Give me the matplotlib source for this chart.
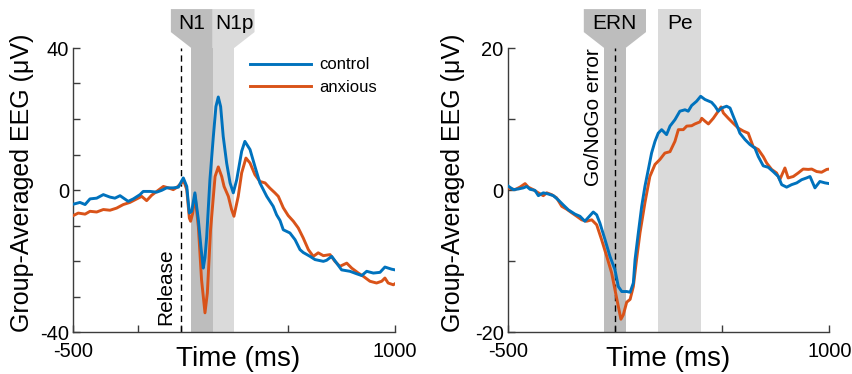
import matplotlib
matplotlib.use("Agg")
import matplotlib.pyplot as plt
from matplotlib.patches import Polygon, Rectangle
from matplotlib.transforms import blended_transform_factory

plt.rcParams['font.family'] = ['Liberation Sans', 'DejaVu Sans']

# ---------------- data ----------------
# Left panel: response-locked to release
left_ctrl_t = [-500, -469, -445, -422, -391, -360, -329, -306, -282, -244, -220, -189, -174, -142,
               -111, -88, -65, -34, -10, 13, 29, 41, 52, 67, 83, 95, 106, 114, 122, 137, 153, 165,
               176, 187, 199, 215, 231, 246, 262, 285, 300, 324, 347, 370, 402, 417, 432, 448, 464,
               479, 510, 534, 557, 572, 604, 627, 666, 681, 705, 728, 751, 790, 821, 845, 868, 899,
               930, 953, 984, 1000]
left_ctrl_v = [-4.0, -3.5, -4.1, -2.5, -2.3, -1.3, -2.0, -2.3, -1.6, -3.2, -2.5, -1.3, -0.4, -0.4,
               -0.6, -0.1, 0.6, 0.6, 0.8, 3.4, 1.0, -6.5, -6.0, -0.8, -8.4, -16.0, -22.0, -19.0, -13.1,
               2.9, 15.1, 23.5, 26.2, 23.5, 15.1, 7.6, 2.0, -0.8, 2.9, 10.9, 13.7, 11.4, 6.6, 2.0, -1.8,
               -3.2, -4.6, -7.0, -8.6, -11.2, -12.1, -14.0, -16.8, -17.6, -18.7, -19.6, -20.1, -19.8,
               -18.7, -20.6, -22.5, -22.9, -23.6, -24.1, -22.9, -23.4, -23.2, -21.7, -22.3, -22.5]

left_anx_t = [-500, -477, -445, -422, -391, -360, -329, -298, -267, -236, -204, -181, -158, -135,
              -111, -80, -57, -34, -18, 5, 13, 29, 41, 47, 57, 67, 83, 98, 114, 125, 140, 161, 176,
              192, 203, 223, 238, 249, 269, 285, 305, 324, 347, 370, 394, 417, 440, 456, 479, 502,
              526, 549, 572, 596, 619, 642, 666, 697, 720, 743, 775, 798, 829, 852, 883, 914, 938,
              953, 968, 992, 1000]
left_anx_v = [-7.2, -6.5, -6.8, -6.0, -6.2, -5.5, -5.7, -5.1, -4.1, -3.5, -2.5, -1.8, -3.0, -1.5,
              -0.4, 1.0, 0.6, 0.1, 0.7, 2.0, 2.9, 0.1, -7.9, -8.8, -6.5, -1.3, -10.3, -25.3, -34.6,
              -29.0, -11.2, 3.8, 6.5, 3.8, 1.0, -1.8, -5.5, -7.4, -1.8, 4.8, 9.0, 7.6, 4.3, 2.4, 2.0,
              0.5, -0.8, -1.8, -5.0, -7.2, -8.8, -10.7, -13.5, -16.8, -18.7, -17.7, -18.5, -18.2,
              -20.1, -21.5, -20.6, -22.0, -23.4, -24.3, -25.7, -26.2, -25.7, -24.8, -26.2, -26.7, -26.4]

# Right panel: locked to Go/NoGo error
right_ctrl_t = [-500, -474, -451, -427, -411, -396, -373, -357, -334, -311, -287, -264, -241, -217,
                -186, -163, -140, -116, -101, -85, -70, -46, -23, 0, 16, 32, 55, 71, 86, 94, 109, 125,
                140, 156, 171, 187, 202, 218, 241, 257, 280, 303, 327, 342, 358, 381, 400, 420, 451,
                467, 482, 498, 521, 537, 552, 568, 583, 607, 630, 653, 669, 692, 715, 738, 762, 778,
                801, 824, 848, 871, 894, 910, 933, 956, 980, 1000]
right_ctrl_v = [0.6, 0.05, 0.14, 0.3, 0.5, 0.1, -0.05, -0.8, -0.4, -0.56, -0.8, -1.4, -2.1, -2.8,
                -3.4, -3.7, -4.4, -3.6, -3.1, -3.5, -4.65, -7.0, -9.35, -11.2, -13.6, -14.3, -14.3,
                -14.4, -13.1, -9.8, -6.1, -2.3, 0.5, 2.9, 5.2, 6.85, 8.0, 8.5, 7.8, 9.0, 9.9, 11.1,
                11.3, 11.1, 11.9, 12.5, 13.2, 12.75, 12.35, 11.8, 11.1, 11.55, 11.8, 11.55, 10.4, 9.2,
                8.0, 7.1, 6.4, 5.9, 4.7, 3.4, 3.2, 2.6, 1.9, 0.75, 0.4, 0.75, 1.0, 1.45, 1.7, 1.9, 0.3,
                1.2, 1.0, 0.9]

right_anx_t = [-500, -466, -443, -419, -404, -381, -357, -334, -318, -295, -272, -248, -225, -202,
               -178, -155, -132, -108, -85, -62, -38, -15, 0, 16, 28, 39, 55, 71, 86, 101, 117, 140,
               163, 187, 210, 233, 257, 280, 296, 319, 335, 358, 373, 397, 405, 420, 436, 459, 482,
               495, 506, 529, 552, 576, 599, 622, 645, 669, 692, 708, 731, 754, 769, 793, 808, 832,
               855, 878, 902, 918, 941, 964, 988, 1000]
right_anx_v = [0.3, 0.05, 0.4, 0.9, 0.4, 0.05, -0.4, -0.8, -0.4, -0.65, -1.1, -2.3, -2.7, -3.2,
               -3.7, -4.2, -4.4, -4.2, -4.9, -7.0, -9.35, -11.7, -14.0, -16.4, -18.2, -17.6, -15.8,
               -15.4, -13.6, -9.8, -6.05, -1.8, 1.9, 3.6, 4.3, 5.2, 5.4, 6.85, 8.5, 8.5, 9.0, 9.05,
               9.3, 9.6, 10.1, 9.7, 9.3, 10.1, 11.1, 11.7, 10.85, 10.1, 9.4, 8.7, 8.3, 8.0, 6.1, 5.7,
               4.7, 3.8, 2.9, 2.4, 1.45, 3.1, 1.7, 1.9, 2.4, 2.95, 2.9, 2.95, 2.6, 2.5, 2.9, 2.95]

series_labels = ['control', 'anxious']
colors = ['#0072BD', '#D95319']

# windows (ms)
left_windows = [(50, 150), (150, 250)]
left_window_names = ['N1', 'N1p']
left_box_span = (-45, 345)
right_windows = [(-50, 50), (200, 400)]
right_window_names = ['ERN', 'Pe']
right_box_span = (-145, 145)

left_yticks = [-40, -30, -20, -10, 0, 10, 20, 30, 40]
left_ylabels = ['-40', '', '', '', '0', '', '', '', '40']
right_yticks = [-20, -10, 0, 10, 20]
right_ylabels = ['-20', '', '0', '', '20']
left_xticks = [-500, -200, 0, 500, 1000]
right_xticks = [-500, 0, 500, 1000]

# ---------------- figure ----------------
DARK = '#bdbdbd'
LIGHT = '#dadada'
SPINE = '#3c3c3c'
fig = plt.figure(figsize=(8.52, 3.74), dpi=100)
axL = fig.add_axes([73.3 / 852, 42 / 374, 321.7 / 852, 284 / 374])
axR = fig.add_axes([507.7 / 852, 42 / 374, 321.6 / 852, 284 / 374])

BOX_TOP = 1.137
TAPER = 1.056


def style(ax, ylim, yticks, ylabels, xticks, xlabel_x, ylabel_x):
    ax.set_xlim(-500, 1000)
    ax.set_ylim(*ylim)
    ax.set_yticks(yticks)
    ax.set_yticklabels(ylabels)
    ax.set_xticks(xticks)
    ax.set_xticklabels(['-500' if t == -500 else ('1000' if t == 1000 else '') for t in xticks])
    for s in ['top', 'right']:
        ax.spines[s].set_visible(False)
    for s in ['left', 'bottom']:
        ax.spines[s].set_color(SPINE)
        ax.spines[s].set_linewidth(1.0)
    ax.tick_params(direction='in', length=5, width=1.0, color=SPINE, labelsize=14.5)
    ax.tick_params(axis='x', pad=7)
    ax.tick_params(axis='y', pad=3)
    ax.set_xlabel('Time (ms)', fontsize=20)
    ax.xaxis.label.set_va('center')
    ax.xaxis.set_label_coords(xlabel_x, -0.095)
    ax.set_ylabel('Group-Averaged EEG (\u03bcV)', fontsize=18)
    ax.yaxis.label.set_va('center')
    ax.yaxis.set_label_coords(ylabel_x, 0.525)


# ---- Left panel ----
ax = axL
tr = blended_transform_factory(ax.transData, ax.transAxes)
(a0, a1), (b0, b1) = left_windows
ax.axvspan(a0, a1, color=DARK, lw=0, zorder=0)
ax.axvspan(b0, b1, color=LIGHT, lw=0, zorder=0)
bx0, bx1 = left_box_span
ax.add_patch(Polygon([(bx0, BOX_TOP), (a1, BOX_TOP), (a1, 1.0), (a0, 1.0), (bx0, TAPER)],
                     closed=True, facecolor=DARK, lw=0, transform=tr, clip_on=False))
ax.add_patch(Polygon([(b0, BOX_TOP), (bx1, BOX_TOP), (bx1, TAPER), (b1, 1.0), (b0, 1.0)],
                     closed=True, facecolor=LIGHT, lw=0, transform=tr, clip_on=False))
ax.text(50, 1.085, left_window_names[0], transform=tr, ha='center', va='center', fontsize=15)
ax.text(250, 1.085, left_window_names[1], transform=tr, ha='center', va='center', fontsize=15)
ax.axvline(0, color='black', ls=(0, (4.5, 3)), lw=1.0, zorder=2)
ax.text(-69, 0.025, 'Release', transform=tr, rotation=90, ha='center', va='bottom', fontsize=15)
ax.plot(left_ctrl_t, left_ctrl_v, color=colors[0], lw=2.1, label=series_labels[0], zorder=4)
ax.plot(left_anx_t, left_anx_v, color=colors[1], lw=2.1, label=series_labels[1], zorder=3)
style(ax, (-40, 40), left_yticks, left_ylabels, left_xticks, 0.512, -0.159)
ax.legend(loc='upper left', bbox_to_anchor=(0.548, 0.967), frameon=False, fontsize=12,
          handlelength=3.7, handletextpad=0.45, labelspacing=0.45, borderpad=0, borderaxespad=0)

# ---- Right panel ----
ax = axR
tr = blended_transform_factory(ax.transData, ax.transAxes)
(e0, e1), (p0, p1) = right_windows
ax.axvspan(e0, e1, color=DARK, lw=0, zorder=0)
ax.axvspan(p0, p1, color=LIGHT, lw=0, zorder=0)
rx0, rx1 = right_box_span
ax.add_patch(Polygon([(rx0, BOX_TOP), (rx1, BOX_TOP), (rx1, TAPER), (e1, 1.0), (e0, 1.0), (rx0, TAPER)],
                     closed=True, facecolor=DARK, lw=0, transform=tr, clip_on=False))
ax.add_patch(Rectangle((p0, 1.0), p1 - p0, BOX_TOP - 1.0, facecolor=LIGHT, lw=0,
                       transform=tr, clip_on=False))
ax.text(0, 1.085, right_window_names[0], transform=tr, ha='center', va='center', fontsize=15)
ax.text(302, 1.085, right_window_names[1], transform=tr, ha='center', va='center', fontsize=15)
ax.axvline(0, color='black', ls=(0, (4.5, 3)), lw=1.0, zorder=2)
ax.text(-101, 1.0, 'Go/NoGo error', transform=tr, rotation=90, ha='center', va='top', fontsize=15)
ax.plot(right_anx_t, right_anx_v, color=colors[1], lw=2.1, label=series_labels[1], zorder=3)
ax.plot(right_ctrl_t, right_ctrl_v, color=colors[0], lw=2.1, label=series_labels[0], zorder=4)
style(ax, (-20, 20), right_yticks, right_ylabels, right_xticks, 0.50, -0.170)

fig.savefig('out.png', dpi=100)
